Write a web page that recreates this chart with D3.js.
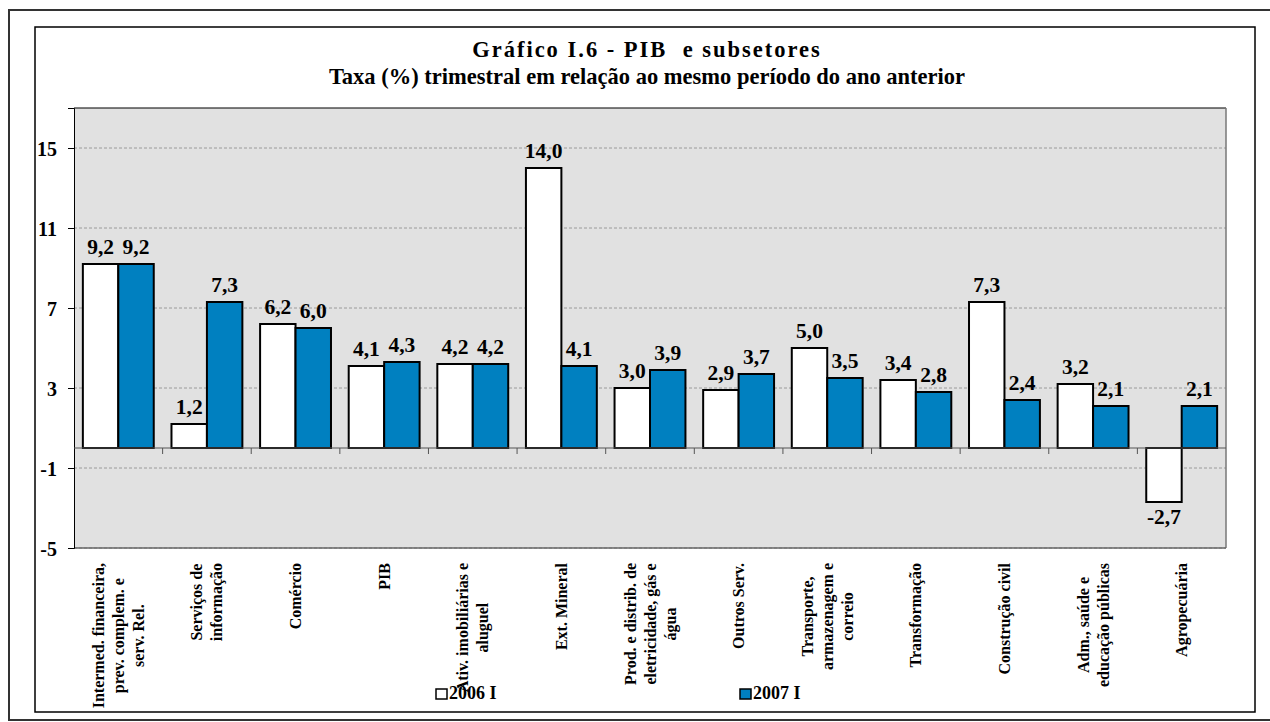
<!DOCTYPE html>
<html>
<head>
<meta charset="utf-8">
<script src="https://cdn.jsdelivr.net/npm/d3@7"></script>
<style>
  body { margin: 0; background: #fff; }
  svg text { font-family: "Liberation Serif", "Times New Roman", serif; font-weight: bold; fill: #000; white-space: pre; }
</style>
</head>
<body>
<div id="chart"></div>
<script>
// categories, one label line per entry
var categories = [
    ["Intermed. financeira,", "prev. complem. e", "serv. Rel."],
    ["Serviços de", "informação"],
    ["Comércio"],
    ["PIB"],
    ["Ativ. imobiliárias e", "aluguel"],
    ["Ext. Mineral"],
    ["Prod. e distrib. de", "eletricidade, gás e", "água"],
    ["Outros Serv."],
    ["Transporte,", "armazenagem e", "correio"],
    ["Transformação"],
    ["Construção civil"],
    ["Adm., saúde e", "educação públicas"],
    ["Agropecuária"]
];
var values2006 = [9.2, 1.2, 6.2, 4.1, 4.2, 14.0, 3.0, 2.9, 5.0, 3.4, 7.3, 3.2, -2.7];
var values2007 = [9.2, 7.3, 6.0, 4.3, 4.2, 4.1, 3.9, 3.7, 3.5, 2.8, 2.4, 2.1, 2.1];
var seriesNames = ["2006 I", "2007 I"];
var yTicks = [-5, -1, 3, 7, 11, 15];

var titleLines = ["Gráfico I.6 - PIB  e subsetores",
    "Taxa (%) trimestral em relação ao mesmo período do ano anterior"];

var W = 1270, H = 722;
var plotL = 74, plotR = 1226, plotT = 108, plotB = 548;
var white = "#ffffff", blue = "#0080c0";

var fmt = function(d) {
    return d3.format(".1f")(d).replace(".", ",").replace("\u2212", "-");
};

var svg = d3.select("#chart").append("svg")
    .attr("width", W)
    .attr("height", H);

// frames
svg.append("rect")
    .attr("x", 9).attr("y", 10)
    .attr("width", 1280).attr("height", 710)
    .attr("fill", "none").attr("stroke", "#333").attr("stroke-width", 2);
svg.append("rect")
    .attr("x", 35).attr("y", 27)
    .attr("width", 1220).attr("height", 685)
    .attr("fill", "#fff").attr("stroke", "#000").attr("stroke-width", 1.5);

// title
svg.selectAll(".title")
    .data(titleLines)
    .enter()
    .append("text")
    .attr("class", "title")
    .attr("x", 647)
    .attr("y", (d, i) => 57 + i * 27)
    .attr("text-anchor", "middle")
    .style("font-size", "22.5px")
    .style("letter-spacing", (d, i) => i == 0 ? "2px" : "0px")
    .text(d => d);

var x = d3.scaleBand()
    .domain(d3.range(categories.length))
    .range([plotL, plotR])
    .paddingInner(0)
    .paddingOuter(0);

var y = d3.scaleLinear()
    .domain([-5, 17])
    .range([plotB, plotT]);

var barW = x.bandwidth() * 0.4;
var gap = (x.bandwidth() - 2 * barW) / 2;

// plot background
svg.append("rect")
    .attr("x", plotL).attr("y", plotT)
    .attr("width", plotR - plotL).attr("height", plotB - plotT)
    .attr("fill", "#e1e1e1");

// grid
svg.append("g")
    .selectAll("line")
    .data(yTicks)
    .enter()
    .append("line")
    .attr("x1", plotL).attr("x2", plotR)
    .attr("y1", d => y(d)).attr("y2", d => y(d))
    .attr("stroke", "#9a9a9a")
    .attr("stroke-dasharray", "3,2");

// plot border
svg.append("line").attr("x1", plotL).attr("x2", plotR).attr("y1", plotT).attr("y2", plotT)
    .attr("stroke", "#000").attr("stroke-width", 1.2);
svg.append("line").attr("x1", plotR).attr("x2", plotR).attr("y1", plotT).attr("y2", plotB)
    .attr("stroke", "#777").attr("stroke-width", 1.5);
svg.append("line").attr("x1", plotL).attr("x2", plotR).attr("y1", plotB).attr("y2", plotB)
    .attr("stroke", "#666").attr("stroke-width", 1.5);

// y axis
var yAxis = svg.append("g")
    .attr("transform", "translate(" + plotL + ",0)")
    .call(d3.axisLeft(y).tickValues(yTicks).tickSize(6).tickPadding(11).tickFormat(d => String(d)));
yAxis.attr("font-family", null).attr("font-size", null);
yAxis.select(".domain").attr("stroke", "#000").attr("stroke-width", 1);
yAxis.selectAll(".tick line").attr("stroke", "#000");
yAxis.selectAll("text")
    .attr("dy", "0.36em")
    .style("font-size", "20px");

// bars
var series = [values2006, values2007];
var colors = [white, blue];
series.forEach(function(vals, s) {
    svg.append("g")
        .selectAll("rect")
        .data(vals)
        .enter()
        .append("rect")
        .attr("x", (d, i) => x(i) + gap + s * barW)
        .attr("y", d => y(Math.max(0, d)))
        .attr("width", barW)
        .attr("height", d => Math.abs(y(d) - y(0)))
        .attr("fill", colors[s])
        .attr("stroke", "#000")
        .attr("stroke-width", 2);

    svg.append("g")
        .selectAll("text")
        .data(vals)
        .enter()
        .append("text")
        .attr("x", (d, i) => x(i) + gap + s * barW + barW / 2)
        .attr("y", d => d >= 0 ? y(d) - 10 : y(d) + 22)
        .attr("text-anchor", "middle")
        .style("font-size", "21.5px")
        .text(fmt);
});

// zero axis with category ticks
svg.append("line")
    .attr("x1", plotL).attr("x2", plotR)
    .attr("y1", y(0)).attr("y2", y(0))
    .attr("stroke", "#555").attr("stroke-width", 1.2);
svg.append("g")
    .selectAll("line")
    .data(d3.range(1, categories.length))
    .enter()
    .append("line")
    .attr("x1", d => x(d)).attr("x2", d => x(d))
    .attr("y1", y(0)).attr("y2", y(0) + 6)
    .attr("stroke", "#555");

// category labels (rotated)
var labelTop = 563, lineH = 20;
var lab = svg.append("g")
    .selectAll("g")
    .data(categories)
    .enter()
    .append("g");

lab.each(function(lines, i) {
    var g = d3.select(this);
    var t = g.append("text")
        .attr("text-anchor", "middle")
        .style("font-size", "16px");
    lines.forEach(function(l, j) {
        t.append("tspan")
            .attr("x", 0)
            .attr("y", (j - (lines.length - 1) / 2) * lineH + 5.5)
            .text(l);
    });
    var maxLen = d3.max(t.selectAll("tspan").nodes(), n => n.getComputedTextLength());
    g.attr("transform", "translate(" + (x(i) + x.bandwidth() / 2) + "," + (labelTop + maxLen / 2) + ") rotate(-90)");
});

// legend
var legendX = [436, 740];
seriesNames.forEach(function(name, s) {
    svg.append("rect")
        .attr("x", legendX[s]).attr("y", 689)
        .attr("width", 11).attr("height", 10)
        .attr("fill", colors[s])
        .attr("stroke", "#000").attr("stroke-width", 1.5);
    svg.append("text")
        .attr("x", legendX[s] + 13).attr("y", 699)
        .style("font-size", "18px")
        .text(name);
});
</script>
</body>
</html>
